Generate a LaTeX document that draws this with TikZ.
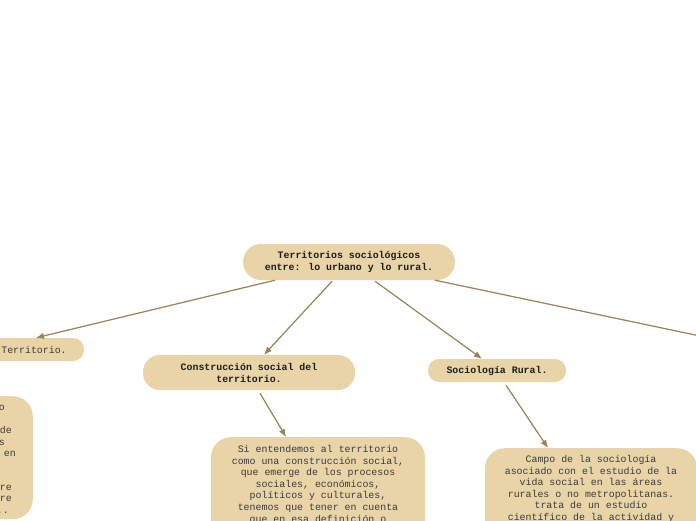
\documentclass[tikz,border=0pt]{standalone}
\usepackage{fontspec}
\newfontfamily\monof{Liberation Mono}
\usetikzlibrary{arrows.meta,calc}
\definecolor{boxfill}{HTML}{E8D4A7}
\definecolor{edgecol}{HTML}{9B8254}
\definecolor{txtdark}{HTML}{1E1E1E}
\definecolor{txtgray}{HTML}{3C3C3C}
\tikzset{
  titlebox/.style={draw=none, fill=boxfill, rounded corners=#1, inner sep=0pt,
    font=\monof\bfseries\fontsize{9.9}{12}\selectfont, text=txtdark, align=center},
  plainbox/.style={draw=none, fill=boxfill, rounded corners=#1, inner sep=0pt,
    font=\monof\fontsize{9.9}{12}\selectfont, text=txtgray, align=center},
  descbox/.style={draw=none, fill=boxfill, rounded corners=20pt, inner sep=0pt},
  desctext/.style={inner sep=0pt, font=\monof\fontsize{9.9}{11.65}\selectfont,
    text=txtgray, align=center},
  frag/.style={inner sep=0pt, font=\monof\fontsize{9.9}{11.6}\selectfont, text=txtgray, anchor=base east},
  conn/.style={draw=edgecol, line width=1.2pt, -{Latex[length=8pt,width=6.5pt]}},
}
\begin{document}
\begin{tikzpicture}[x=1pt,y=-1pt]
\useasboundingbox[fill=white] (0,0) rectangle (696,520);

% root
\node[titlebox=18pt, minimum width=212pt, minimum height=36pt] (root) at (349,262)
  {Territorios sociológicos\\entre: lo urbano y lo rural.};

% left branch
\node[plainbox=11pt, minimum width=100pt, minimum height=23pt] (terr) at (34,349.5)
  {Territorio.};
\node[descbox, minimum width=160pt, minimum height=123pt, anchor=north east] (d0) at (33,396) {};
\node[frag] (f1) at (5,410.5) {o};
\node[frag] (f2) at (12,433.5) {de};
\node[frag] (f3) at (5,445) {s};
\node[frag] (f4) at (16,456.5) {en};
\node[frag] (f5) at (12,490) {re};
\node[frag] (f6) at (12,501.5) {ore};
\node[frag] (f7) at (9,513) {..};

% construction
\node[titlebox=17pt, minimum width=212pt, minimum height=35pt] (cons) at (249,372.5)
  {Construcción social del\\territorio.};
\node[descbox, minimum width=214pt, minimum height=170pt, anchor=north] (d1) at (318,437) {};
\node[desctext, anchor=north] (d1t) at ($(d1.north)+(0,8)$)
  {Si entendemos al territorio\\como una construcción social,\\que emerge de los procesos\\sociales, económicos,\\políticos y culturales,\\tenemos que tener en cuenta\\que en esa definición o};

% sociologia rural
\node[titlebox=11pt, minimum width=138pt, minimum height=23pt] (soc) at (497,370.5)
  {Sociología Rural.};
\node[descbox, minimum width=212pt, minimum height=160pt, anchor=north] (d2) at (591,448) {};
\node[desctext, anchor=north] (d2t) at ($(d2.north)+(0,7)$)
  {Campo de la sociología\\asociado con el estudio de la\\vida social en las áreas\\rurales o no metropolitanas.\\trata de un estudio\\científico de la actividad y};

% off-page branch
\coordinate (offr) at (700,336);

% connectors
\draw[conn] ($(root.south)+(-74,0)$) -- ($(terr.north)+(2,0)$);
\draw[conn] ($(root.south)+(-17,1)$) -- ($(cons.north)+(15,0)$);
\draw[conn] ($(root.south)+(26,1)$) -- ($(soc.north)+(-15,0)$);
\draw[draw=edgecol, line width=1.2pt] ($(root.south)+(86,0)$) -- (offr);
\draw[conn] ($(cons.south)+(11,3)$) -- ($(d1.north)+(-32,0)$);
\draw[conn] ($(soc.south)+(9,3)$) -- ($(d2.north)+(-43,0)$);
\end{tikzpicture}
\end{document}
